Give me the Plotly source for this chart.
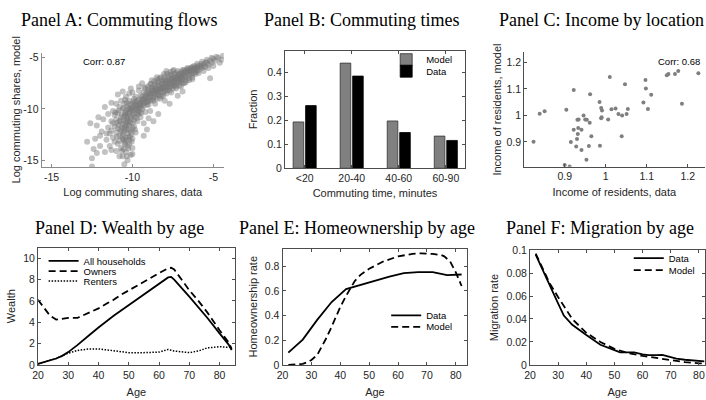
import plotly.graph_objects as go

W, H = 706, 400

# ---------------- Panel A: commuting flows (log shares: data, model) ----------------
flow_points = [
    (-4.4, -4.8), (-4.5, -5.2), (-4.7, -5.0), (-4.9, -5.3), (-5.0, -5.1), (-5.1, -5.5), (-5.2, -5.3),
    (-5.3, -5.7), (-5.4, -5.5), (-5.5, -5.9), (-5.2, -7.0), (-5.6, -5.6), (-5.7, -6.0), (-5.8, -5.8),
    (-5.9, -6.2), (-4.6, -5.5),
    (-6.0, -5.9), (-6.0, -6.3), (-6.1, -6.1), (-6.2, -5.8), (-6.2, -6.5), (-6.3, -6.2), (-6.4, -6.0),
    (-6.4, -6.6), (-6.5, -6.3), (-6.6, -6.5), (-6.6, -6.0), (-6.7, -6.8), (-6.8, -6.4), (-6.8, -6.2),
    (-6.9, -6.7), (-7.0, -6.9), (-7.0, -6.4), (-7.0, -7.3), (-6.5, -7.0), (-6.3, -6.9), (-6.1, -6.6),
    (-5.9, -6.5), (-6.7, -7.2),
    (-7.1, -6.6), (-7.1, -7.1), (-7.2, -6.8), (-7.2, -7.4), (-7.3, -7.0), (-7.3, -6.5), (-7.4, -7.2),
    (-7.4, -7.7), (-7.5, -6.9), (-7.5, -7.4), (-7.6, -7.1), (-7.6, -7.8), (-7.7, -7.3), (-7.7, -6.7),
    (-7.8, -7.6), (-7.8, -8.1), (-7.9, -7.2), (-7.9, -7.8), (-8.0, -7.5), (-8.0, -8.3), (-8.0, -6.8),
    (-7.3, -8.0), (-7.0, -7.8), (-6.8, -7.5), (-7.6, -8.4), (-7.9, -6.3), (-7.5, -6.3),
    (-8.1, -7.9), (-8.1, -7.3), (-8.2, -8.2), (-8.2, -7.6), (-8.3, -7.0), (-8.3, -8.0), (-8.4, -8.6),
    (-8.4, -7.7), (-8.5, -8.2), (-8.5, -7.4), (-8.6, -8.0), (-8.6, -8.8), (-8.7, -7.8), (-8.7, -8.4),
    (-8.8, -9.1), (-8.8, -8.1), (-8.9, -8.6), (-8.9, -7.6), (-9.0, -8.3), (-9.0, -9.0), (-9.0, -9.6),
    (-8.3, -9.0), (-8.6, -9.5), (-8.0, -9.2), (-8.5, -6.9), (-8.8, -7.2), (-8.2, -8.8), (-7.7, -9.5),
    (-8.9, -10.2),
    (-9.1, -8.5), (-9.1, -9.3), (-9.2, -8.0), (-9.2, -8.9), (-9.3, -9.5), (-9.3, -8.4), (-9.4, -9.1),
    (-9.4, -10.0), (-9.5, -8.7), (-9.5, -9.4), (-9.6, -9.9), (-9.6, -8.2), (-9.7, -9.2), (-9.7, -10.4),
    (-9.8, -9.6), (-9.8, -8.8), (-9.9, -10.1), (-9.9, -9.0), (-10.0, -9.5), (-10.0, -10.6), (-10.0, -8.4),
    (-9.2, -10.3), (-9.5, -10.8), (-9.0, -10.9), (-9.3, -11.4), (-9.7, -11.2), (-9.6, -7.8), (-9.9, -11.7),
    (-9.4, -7.5), (-8.7, -11.2), (-9.1, -12.0), (-9.8, -12.3),
    (-10.1, -9.9), (-10.1, -11.0), (-10.1, -12.2), (-10.2, -9.2), (-10.2, -10.5), (-10.2, -11.6),
    (-10.2, -13.0), (-10.3, -9.7), (-10.3, -10.9), (-10.3, -12.4), (-10.3, -13.6), (-10.4, -8.8),
    (-10.4, -10.2), (-10.4, -11.3), (-10.4, -12.8), (-10.4, -14.2), (-10.5, -9.5), (-10.5, -10.7),
    (-10.5, -11.9), (-10.5, -13.3), (-10.0, -12.9), (-10.0, -13.8), (-10.1, -14.5), (-10.6, -14.6),
    (-10.3, -15.0), (-10.5, -15.4), (-10.0, -11.4), (-10.2, -8.5), (-10.6, -8.3), (-10.1, -8.0),
    (-10.6, -10.0), (-10.6, -11.5), (-10.6, -12.9), (-10.7, -9.2), (-10.7, -10.8), (-10.7, -12.2),
    (-10.7, -13.8), (-10.8, -11.2), (-10.8, -12.6), (-10.8, -9.8), (-10.9, -10.4), (-10.9, -11.9),
    (-10.9, -13.4), (-11.0, -11.0), (-11.0, -12.3), (-11.0, -9.5), (-11.1, -10.6), (-11.1, -11.7),
    (-11.2, -12.8), (-11.2, -10.2), (-11.0, -14.1), (-10.8, -14.6), (-11.1, -13.2), (-10.9, -8.6),
    (-11.3, -11.2), (-11.4, -12.4), (-11.5, -10.5), (-11.5, -11.8), (-11.6, -13.0), (-11.7, -9.8),
    (-11.8, -11.0), (-11.9, -12.2), (-12.0, -13.6), (-12.1, -10.8), (-12.2, -11.6), (-12.3, -12.9),
    (-12.4, -13.9), (-12.5, -14.8), (-12.6, -11.4), (-12.2, -14.3), (-11.7, -14.2), (-12.0, -12.6),
    (-11.4, -13.6), (-12.5, -15.6), (-12.8, -13.2),
    (-7.2, -8.7), (-6.9, -8.3), (-8.4, -10.5), (-9.3, -12.6), (-11.3, -9.4),
    (-10.2, -10.0), (-10.0, -10.2), (-9.8, -10.0), (-9.6, -9.5), (-9.4, -9.3), (-9.2, -9.1), (-9.0, -8.8),
    (-8.8, -8.5), (-8.6, -8.3), (-8.4, -8.1), (-8.2, -7.9), (-8.0, -7.8), (-7.8, -7.5), (-7.6, -7.4),
    (-7.4, -7.1), (-7.2, -7.0), (-7.0, -6.8), (-6.8, -6.6), (-6.6, -6.4), (-6.4, -6.3), (-6.2, -6.1),
    (-6.0, -6.0), (-5.8, -5.9), (-5.6, -5.8), (-10.3, -10.4), (-10.1, -10.8), (-9.9, -10.5), (-9.7, -9.7),
    (-9.5, -9.9), (-9.3, -9.7), (-9.1, -9.6), (-8.9, -9.2), (-8.7, -8.9), (-8.5, -8.6), (-8.3, -8.4),
    (-8.1, -8.4), (-7.9, -8.2), (-7.7, -7.9), (-7.5, -7.7), (-7.3, -7.6), (-7.1, -7.4), (-6.9, -7.1),
    (-6.7, -6.9), (-6.5, -6.7), (-6.3, -6.6), (-6.1, -6.4), (-9.8, -9.3), (-9.6, -9.1), (-9.4, -8.8),
    (-9.2, -8.6), (-9.0, -8.1), (-8.8, -7.9), (-8.6, -7.6), (-8.4, -7.4), (-8.2, -7.2), (-8.0, -7.1),
    (-7.8, -6.9), (-7.6, -6.7), (-7.4, -6.6), (-7.2, -6.3), (-10.4, -11.8), (-10.2, -12.0), (-10.0, -11.9),
    (-10.6, -12.4), (-10.4, -13.1), (-10.2, -13.4), (-10.5, -12.2), (-9.9, -11.1), (-10.7, -11.1),
    (-10.3, -11.5),
    (-10.15, -10.3), (-9.95, -9.8), (-9.75, -9.95), (-9.55, -9.65), (-9.35, -9.0), (-9.15, -8.75),
    (-8.95, -8.45), (-8.75, -8.2), (-8.55, -7.95), (-8.35, -7.75), (-8.15, -7.55), (-7.95, -7.35),
    (-7.75, -7.15), (-7.55, -7.0), (-7.35, -6.85), (-7.15, -6.7), (-6.95, -6.55), (-6.75, -6.35),
    (-6.55, -6.2), (-6.35, -6.05), (-6.15, -5.95), (-5.95, -5.75), (-5.75, -5.65), (-5.45, -5.45),
    (-10.35, -11.05), (-10.15, -11.35), (-10.45, -10.55), (-10.25, -12.7), (-10.55, -13.0),
    (-10.05, -12.45), (-10.65, -11.75), (-9.85, -10.75), (-9.65, -10.2), (-9.45, -9.6), (-9.25, -9.35),
    (-9.05, -9.3), (-8.85, -8.8), (-8.65, -8.55), (-8.45, -8.35), (-8.25, -8.05), (-8.05, -7.95),
    (-7.85, -7.85), (-7.65, -7.6), (-7.45, -7.45), (-7.25, -7.25), (-7.05, -7.1), (-6.85, -6.9),
    (-10.45, -9.1), (-10.35, -9.4), (-10.55, -9.9), (-10.25, -9.95), (-10.45, -10.4), (-10.65, -10.6),
    (-10.35, -10.75), (-10.55, -11.15), (-10.25, -11.2), (-10.45, -11.6), (-10.85, -11.55),
    (-10.75, -12.0), (-10.35, -12.05), (-10.6, -12.65), (-10.15, -12.7), (-10.45, -13.45),
    (-10.25, -13.85), (-10.55, -13.9), (-10.8, -13.1), (-10.95, -12.7), (-10.85, -10.15),
    (-11.05, -10.35), (-10.95, -11.35), (-11.2, -11.4), (-11.3, -12.1), (-10.05, -10.0), (-9.95, -9.3),
    (-9.85, -9.6), (-10.15, -9.55), (-9.65, -10.55), (-9.75, -10.9), (-9.55, -10.35), (-9.45, -10.4),
    (-9.85, -12.0), (-10.05, -13.2), (-10.0, -14.4), (-10.35, -14.6), (-10.65, -14.1), (-11.3, -14.0),
    (-11.6, -12.4),
    (-9.25, -7.9), (-9.05, -7.8), (-8.85, -7.55), (-8.65, -7.3), (-8.45, -7.1), (-8.25, -6.9),
    (-8.05, -6.6), (-7.85, -6.55), (-7.65, -6.4), (-7.45, -6.2), (-8.7, -9.2), (-8.5, -9.0),
    (-8.3, -8.7), (-8.1, -8.7), (-7.9, -8.5), (-7.7, -8.2), (-7.5, -8.0), (-7.3, -7.8), (-7.1, -7.7),
    (-6.9, -7.5), (-6.7, -7.4), (-6.5, -7.2), (-6.3, -7.1), (-6.9, -6.2), (-6.6, -6.1), (-6.3, -5.9),
    (-6.0, -5.6), (-5.7, -5.4), (-5.4, -5.2), (-5.1, -5.0), (-4.8, -4.9), (-5.6, -6.3), (-5.3, -6.0),
    (-5.0, -5.8),
]
flow_data = [p[0] for p in flow_points]
flow_model = [p[1] for p in flow_points]
flow_ticks = [-15, -10, -5]
flow_ticklabels = ["-15", "-10", "-5"]

# ---------------- Panel B: commuting times ----------------
commute_bins = ["<20", "20-40", "40-60", "60-90"]
commute_model = [0.193, 0.438, 0.197, 0.134]
commute_data = [0.261, 0.384, 0.149, 0.116]

# ---------------- Panel C: income by location ----------------
income_points = [
    (0.824, 0.900), (0.839, 1.006), (0.851, 1.015), (0.900, 0.813), (0.912, 0.807), (0.904, 1.021),
    (0.915, 0.899), (0.922, 1.096), (0.922, 0.946), (0.928, 0.882), (0.930, 0.911), (0.932, 0.930),
    (0.931, 0.983), (0.934, 0.984), (0.933, 0.952), (0.941, 0.946), (0.941, 0.869), (0.946, 0.999),
    (0.950, 0.984), (0.954, 0.983), (0.953, 0.832), (0.959, 0.884), (0.961, 0.972), (0.962, 1.080),
    (0.965, 0.921), (0.985, 1.050), (0.986, 0.885), (0.989, 1.028), (0.991, 1.018), (0.990, 0.993),
    (0.989, 0.989), (1.006, 0.984), (1.010, 1.145), (1.014, 1.023), (1.024, 1.026), (1.031, 1.005),
    (1.039, 0.921), (1.040, 0.999), (1.047, 1.117), (1.051, 1.005), (1.054, 1.024), (1.092, 1.048),
    (1.097, 1.133), (1.098, 1.101), (1.103, 1.024), (1.111, 1.078), (1.149, 1.151), (1.153, 1.156),
    (1.169, 1.156), (1.177, 1.167), (1.186, 1.044), (1.226, 1.159),
]
income_data = [p[0] for p in income_points]
income_model = [p[1] for p in income_points]

# ---------------- Panel D: wealth by age ----------------
wealth_age = [20, 22, 24, 26, 28, 30, 33, 35, 37, 40, 43, 45, 47, 50, 55, 60, 63, 64, 65, 70, 73, 75, 76, 80, 83, 84]
wealth_all = [0.10, 0.25, 0.42, 0.60, 0.85, 1.20, 1.85, 2.35, 2.80, 3.50, 4.20, 4.60, 5.00, 5.60, 6.60,
              7.60, 8.20, 8.25, 8.00, 6.40, 5.40, 4.75, 4.40, 2.95, 1.90, 1.40]
wealth_owners = [6.10, 5.30, 4.60, 4.25, 4.35, 4.40, 4.40, 4.65, 4.90, 5.30, 5.80, 6.10, 6.50, 7.00, 7.80,
                 8.60, 9.05, 9.10, 8.95, 7.00, 6.00, 5.30, 4.90, 3.25, 2.10, 1.50]
wealth_renters = [0.10, 0.25, 0.42, 0.60, 0.85, 1.10, 1.35, 1.45, 1.50, 1.50, 1.40, 1.30, 1.20, 1.15, 1.15,
                  1.20, 1.45, 1.40, 1.30, 1.15, 1.30, 1.50, 1.60, 1.70, 1.65, 1.75]

# ---------------- Panel E: homeownership by age ----------------
own_age_data = [22, 27, 32, 37, 42, 47, 52, 57, 62, 67, 72, 77, 82]
own_data = [0.10, 0.205, 0.365, 0.51, 0.615, 0.65, 0.685, 0.715, 0.745, 0.753, 0.752, 0.728, 0.733]
own_age_model = [22, 25, 27, 29, 30, 32, 34, 35, 37, 40, 42, 44, 45, 47, 50, 55, 60, 65, 68, 72, 75, 76, 78, 80, 82]
own_model = [0.0, 0.002, 0.008, 0.025, 0.04, 0.08, 0.16, 0.21, 0.31, 0.47, 0.56, 0.635, 0.68, 0.73, 0.78,
             0.84, 0.88, 0.90, 0.905, 0.90, 0.89, 0.88, 0.84, 0.75, 0.64]

# ---------------- Panel F: migration by age ----------------
mig_age_data = [22, 25, 27, 30, 32, 35, 40, 45, 50, 52, 55, 57, 60, 62, 65, 67, 70, 72, 75, 77, 80, 82]
mig_data = [0.096, 0.080, 0.068, 0.0535, 0.043, 0.035, 0.026, 0.0175, 0.0128, 0.011, 0.011, 0.011, 0.0092,
            0.0085, 0.0085, 0.0088, 0.0068, 0.0055, 0.0045, 0.004, 0.0034, 0.003]
mig_age_model = [22, 25, 27, 30, 32, 35, 40, 45, 50, 55, 60, 65, 70, 75, 80, 82]
mig_model = [0.097, 0.082, 0.071, 0.059, 0.051, 0.040, 0.028, 0.020, 0.014, 0.0102, 0.0078, 0.0058,
             0.0038, 0.0024, 0.0014, 0.0011]

# ---------------- styling ----------------
SANS = "Liberation Sans, Arial, sans-serif"
SERIF = "Liberation Serif, Times New Roman, serif"
TXT = "#262626"
AXC = "#4d4d4d"
TICK = 10.5
LAB = 11
LEGF = 9.5


def xdom(l, r):
    return [l / W, r / W]


def ydom(top, bottom):
    return [1 - bottom / H, 1 - top / H]


def axis(domain, rng, anchor, title, mirror, standoff, color=AXC, **kw):
    d = dict(domain=domain, range=rng, anchor=anchor, showgrid=False, zeroline=False,
             showline=True, linecolor=color, linewidth=1, mirror=mirror,
             ticks="inside", ticklen=3, tickcolor=color, ticklabeloverflow="allow",
             tickfont=dict(family=SANS, size=TICK, color=TXT),
             title=dict(text=title, standoff=standoff, font=dict(family=SANS, size=LAB, color=TXT)))
    d.update(kw)
    return d


fig = go.Figure()

# Panel A
fig.add_trace(go.Scatter(x=flow_data, y=flow_model, mode="markers", xaxis="x", yaxis="y",
                         marker=dict(size=6, color="#777777", opacity=0.45, line=dict(width=0)),
                         showlegend=False, hoverinfo="skip"))
# Panel B
fig.add_trace(go.Bar(x=commute_bins, y=commute_model, name="Model", xaxis="x2", yaxis="y2",
                     marker=dict(color="#808080", line=dict(color="#333333", width=0.8)),
                     legend="legend"))
fig.add_trace(go.Bar(x=commute_bins, y=commute_data, name="Data", xaxis="x2", yaxis="y2",
                     marker=dict(color="#000000", line=dict(color="#000000", width=0.8)),
                     legend="legend2"))
# Panel C
fig.add_trace(go.Scatter(x=income_data, y=income_model, mode="markers", xaxis="x3", yaxis="y3",
                         marker=dict(size=4, color="#7f7f7f"), showlegend=False))
# Panel D
fig.add_trace(go.Scatter(x=wealth_age, y=wealth_all, mode="lines", name="All households",
                         xaxis="x4", yaxis="y4", line=dict(color="black", width=1.8),
                         legend="legend3"))
fig.add_trace(go.Scatter(x=wealth_age, y=wealth_owners, mode="lines", name="Owners",
                         xaxis="x4", yaxis="y4", line=dict(color="black", width=1.8, dash="7px,4px"),
                         legend="legend4"))
fig.add_trace(go.Scatter(x=wealth_age, y=wealth_renters, mode="lines", name="Renters",
                         xaxis="x4", yaxis="y4", line=dict(color="black", width=1.5, dash="1.5px,1.5px"),
                         legend="legend5"))
# Panel E
fig.add_trace(go.Scatter(x=own_age_data, y=own_data, mode="lines", name="Data",
                         xaxis="x5", yaxis="y5", line=dict(color="black", width=1.8),
                         legend="legend6"))
fig.add_trace(go.Scatter(x=own_age_model, y=own_model, mode="lines", name="Model",
                         xaxis="x5", yaxis="y5", line=dict(color="black", width=1.8, dash="7px,4px"),
                         legend="legend7"))
# Panel F
fig.add_trace(go.Scatter(x=mig_age_data, y=mig_data, mode="lines", name="Data",
                         xaxis="x6", yaxis="y6", line=dict(color="black", width=1.8),
                         legend="legend8"))
fig.add_trace(go.Scatter(x=mig_age_model, y=mig_model, mode="lines", name="Model",
                         xaxis="x6", yaxis="y6", line=dict(color="black", width=1.8, dash="7px,4px"),
                         legend="legend9"))


def leg(xpx, ypx):
    return dict(x=xpx / W, y=1 - ypx / H, xanchor="left", yanchor="middle",
                bgcolor="rgba(0,0,0,0)", borderwidth=0,
                font=dict(family=SANS, size=LEGF, color="black"))


layout = dict(
    width=W, height=H, margin=dict(l=0, r=0, t=0, b=0),
    paper_bgcolor="white", plot_bgcolor="white",
    barmode="group", bargap=0.47, bargroupgap=0.15,
    font=dict(family=SANS, color=TXT),
    # Panel A
    xaxis=axis(xdom(36, 220), [-15.61, -4.35], "y", "Log commuting shares, data", False, 6, color="#8a8a8a",
               tickvals=flow_ticks, ticktext=flow_ticklabels),
    yaxis=axis(ydom(48, 166), [-15.66, -4.5], "x", "Log commuting shares, model", False, 0, color="#8a8a8a",
               tickvals=flow_ticks, ticktext=flow_ticklabels),
    # Panel B
    xaxis2=axis(xdom(281.7, 463.7), [-0.42, 3.41], "y2", "Commuting time, minutes", "ticks", 6),
    yaxis2=axis(ydom(46, 167.3), [0, 0.49], "x2", "Fraction", "ticks", 7, dtick=0.1, tick0=0),
    # Panel C
    xaxis3=axis(xdom(523.3, 705.5), [0.801, 1.241], "y3", "Income of residents, data", False, 6,
                tickvals=[0.9, 1.0, 1.1, 1.2]),
    yaxis3=axis(ydom(47.7, 165.7), [0.806, 1.238], "x3", "Income of residents, model", False, 2,
                tickvals=[0.9, 1.0, 1.1, 1.2]),
    # Panel D
    xaxis4=axis(xdom(32.3, 231), [20, 85], "y4", "Age", "ticks", 8, dtick=10, tick0=0),
    yaxis4=axis(ydom(249, 370), [0, 11], "x4", "Wealth", "ticks", 5, dtick=2, tick0=0),
    # Panel E
    xaxis5=axis(xdom(279.3, 466), [20, 84], "y5", "Age", "ticks", 8, dtick=10, tick0=0),
    yaxis5=axis(ydom(250, 370), [0, 0.944], "x5", "Homeownership rate", "ticks", 4, dtick=0.2, tick0=0),
    # Panel F
    xaxis6=axis(xdom(529.3, 705.5), [20, 82], "y6", "Age", "ticks", 8, dtick=10, tick0=0),
    yaxis6=axis(ydom(251.7, 370), [0, 0.1], "x6", "Migration rate", "ticks", 5, dtick=0.02, tick0=0),
    legend=leg(384, 55.3),
    legend2=leg(384, 67.2),
    legend3=leg(38, 262.7),
    legend4=leg(38, 273.3),
    legend5=leg(38, 283.5),
    legend6=leg(384, 319),
    legend7=leg(384, 330.7),
    legend8=leg(629, 260),
    legend9=leg(629, 272.3),
)
fig.update_layout(**layout)

titles = [
    ("Panel A: Commuting flows", 115, 14.5),
    ("Panel B: Commuting times", 360, 14.5),
    ("Panel C: Income by location", 601, 14.5),
    ("Panel D: Wealth by age", 115, 228.5),
    ("Panel E: Homeownership by age", 355, 228.5),
    ("Panel F: Migration by age", 600, 228.5),
]
for text, cx, cy in titles:
    fig.add_annotation(text=text, x=cx / W, y=1 - cy / H, xref="paper", yref="paper",
                       xanchor="center", yanchor="middle", showarrow=False,
                       font=dict(family=SERIF, size=18, color="black"))

fig.add_annotation(text="Corr: 0.87", x=-11.75, y=-5.38, xref="x", yref="y", showarrow=False,
                   xanchor="center", yanchor="middle", font=dict(family=SANS, size=9.5, color="black"))
fig.add_annotation(text="Corr: 0.68", x=1.18, y=1.204, xref="x3", yref="y3", showarrow=False,
                   xanchor="center", yanchor="middle", font=dict(family=SANS, size=9.5, color="black"))

fig.write_html("out.html", config={"displayModeBar": False},
               post_script="document.body.style.margin='0';document.body.style.overflow='hidden';")
